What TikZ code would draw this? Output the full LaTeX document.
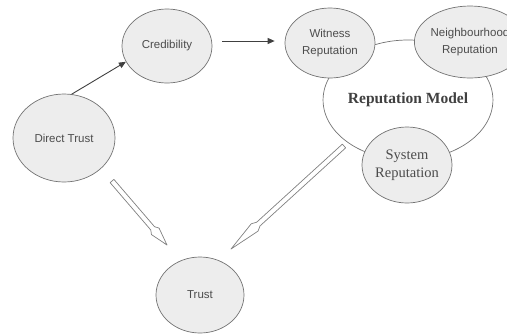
\documentclass[tikz,border=0pt]{standalone}
\usepackage{fontspec}
\setmainfont{Liberation Serif}
\setsansfont{Liberation Sans}
\usetikzlibrary{shapes.geometric,calc,arrows.meta}
\newcommand\hollowarrow[4]{% #1 start, #2 tip, #3 head length, #4 neck length
  \coordinate (hn) at ($(#2)!#3!(#1)$);
  \coordinate (hs) at ($(#2)!#4!(#1)$);
  \draw[hollow] ($(#1)!2.5pt!90:(#2)$) -- ($(hs)!2.5pt!90:(#2)$) -- ($(hn)!5pt!90:(#2)$) -- (#2)
    -- ($(hn)!5pt!-90:(#2)$) -- ($(hs)!2.5pt!-90:(#2)$) -- ($(#1)!2.5pt!-90:(#2)$) -- cycle;}
\begin{document}
\begin{tikzpicture}[x=1pt,y=-1pt,
  bubble/.style={ellipse, draw=black!55, fill=black!7, line width=0.7pt, inner sep=0pt,
    align=center, text=black!70, font=\sffamily\fontsize{11.5}{17}\selectfont},
  serifbubble/.style={bubble, font=\rmfamily\fontsize{14.5}{18}\selectfont},
  arr/.style={draw=black!75, line width=0.9pt, -{Triangle[length=7pt,width=6pt]}},
  hollow/.style={draw=black!50, fill=white, line width=0.7pt, line join=round}]
\useasboundingbox (0,0) rectangle (507,333);
\clip (0,0) rectangle (507,333);
\node[draw=black!55, line width=0.7pt, ellipse, minimum width=158pt, minimum height=120pt,
  inner sep=0pt, text=black!75, font=\rmfamily\bfseries\fontsize{15.5}{18}\selectfont]
  (model) at (408,100) {Reputation Model};
\node[bubble, minimum width=90pt, minimum height=74pt] (cred) at (167,46) {Credibility};
\node[bubble, minimum width=102pt, minimum height=88pt] (direct) at (64,138) {Direct Trust};
\node[bubble, minimum width=90pt, minimum height=70pt] (witness) at (330,43) {Witness\\Reputation};
\node[bubble, minimum width=86pt, minimum height=72pt] (neigh) at (470,42) {Neighbourhood\\Reputation};
\node[serifbubble, minimum width=88pt, minimum height=76pt] (system) at (407,165) {System\\Reputation};
\node[bubble, minimum width=88pt, minimum height=76pt] (trust) at (200,295) {Trust};
\draw[arr] (direct.80) -- (cred.201);
\draw[arr] ([xshift=10pt,yshift=5pt]cred.east) -- ([xshift=-10pt,yshift=2pt]witness.west);
\coordinate (dt-a) at (112,181);
\coordinate (dt-b) at (167,245);
\coordinate (sr-a) at (344,146);
\coordinate (sr-b) at (231,249);
\hollowarrow{dt-a}{dt-b}{18pt}{22pt}
\hollowarrow{sr-a}{sr-b}{32pt}{37pt}
\end{tikzpicture}
\end{document}
